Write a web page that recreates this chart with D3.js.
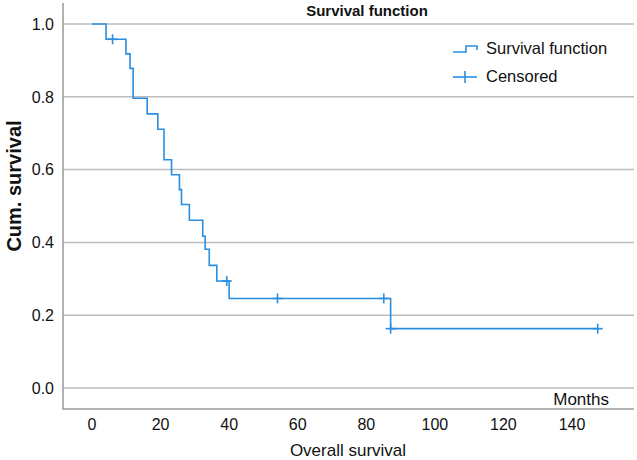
<!DOCTYPE html>
<html>
<head>
<meta charset="utf-8">
<script src="https://cdn.jsdelivr.net/npm/d3@7"></script>
<style>
  html, body { margin: 0; padding: 0; background: #fff; }
  svg { display: block; }
  text { font-family: "Liberation Sans", Arial, Helvetica, sans-serif; fill: #111; }
</style>
</head>
<body>
<svg id="chart" width="637" height="460"></svg>
<script>
// ---- data ----
const eventTimes = [0, 4.1, 9.9, 11.1, 12.0, 16.1, 19.2, 21.0, 23.2, 25.5, 26.1, 28.4, 32.3, 33.0, 34.2, 36.4, 40.0, 87.1, 147.5];
const survival   = [1.0, 0.958, 0.918, 0.878, 0.796, 0.753, 0.711, 0.627, 0.586, 0.545, 0.504, 0.461, 0.417, 0.381, 0.337, 0.294, 0.246, 0.163, 0.163];
const censorTimes  = [6.0, 39.3, 54.1, 85.1, 87.1, 147.5];
const censorValues = [0.958, 0.294, 0.246, 0.246, 0.163, 0.163];
const xTicks = [0, 20, 40, 60, 80, 100, 120, 140];
const yTicks = [0.0, 0.2, 0.4, 0.6, 0.8, 1.0];
const legendLabels = ["Survival function", "Censored"];

const blue = "#2a8ee0";
const gridColor = "#bdbdbd";
const frameColor = "#9a9a9a";

const svg = d3.select("#chart");
const x = d3.scaleLinear().domain([0, 140]).range([92, 572]);
const y = d3.scaleLinear().domain([0, 1]).range([388, 24]);

const frame = { left: 63, right: 634, top: 3, bottom: 409 };

// gridlines
svg.append("g").selectAll("line").data(yTicks).join("line")
  .attr("x1", frame.left).attr("x2", frame.right)
  .attr("y1", d => y(d)).attr("y2", d => y(d))
  .attr("stroke", gridColor).attr("stroke-width", 1.5);

// frame (left + bottom)
svg.append("path")
  .attr("d", `M${frame.left},${frame.top}V${frame.bottom}H${frame.right}`)
  .attr("fill", "none").attr("stroke", frameColor).attr("stroke-width", 1.5);

// y tick labels
svg.append("g").selectAll("text").data(yTicks).join("text")
  .attr("x", 54).attr("y", d => y(d)).attr("dy", "0.36em")
  .attr("text-anchor", "end").attr("font-size", 16)
  .text(d => d3.format(".1f")(d));

// x tick labels
svg.append("g").selectAll("text").data(xTicks).join("text")
  .attr("x", d => x(d)).attr("y", 430)
  .attr("text-anchor", "middle").attr("font-size", 16)
  .text(d => d);

// axis titles
svg.append("text").attr("x", 348).attr("y", 456).attr("text-anchor", "middle")
  .attr("font-size", 17).text("Overall survival");
svg.append("text").attr("transform", "translate(21,186) rotate(-90)")
  .attr("text-anchor", "middle").attr("font-size", 20).attr("font-weight", "bold")
  .text("Cum. survival");
svg.append("text").attr("x", 609).attr("y", 405).attr("text-anchor", "end")
  .attr("font-size", 17).text("Months");

// title
svg.append("text").attr("x", 367).attr("y", 16).attr("text-anchor", "middle")
  .attr("font-size", 15).attr("font-weight", "bold").text("Survival function");

// survival step curve
const pts = eventTimes.map((t, i) => [t, survival[i]]);
const line = d3.line().x(d => x(d[0])).y(d => y(d[1])).curve(d3.curveStepAfter);
svg.append("path").datum(pts).attr("d", line)
  .attr("fill", "none").attr("stroke", blue).attr("stroke-width", 1.6);

// censor marks
const cg = svg.append("g").attr("stroke", blue).attr("stroke-width", 1.6);
censorTimes.forEach((t, i) => {
  const cx = x(t), cy = y(censorValues[i]);
  cg.append("line").attr("x1", cx - 5).attr("x2", cx + 5).attr("y1", cy).attr("y2", cy);
  cg.append("line").attr("x1", cx).attr("x2", cx).attr("y1", cy - 5).attr("y2", cy + 5);
});

// legend
const lg = svg.append("g");
lg.append("path").attr("d", "M453,52H466V46H477V50")
  .attr("fill", "none").attr("stroke", blue).attr("stroke-width", 1.6);
lg.append("line").attr("x1", 453).attr("x2", 477).attr("y1", 77).attr("y2", 77)
  .attr("stroke", blue).attr("stroke-width", 1.6);
lg.append("line").attr("x1", 465).attr("x2", 465).attr("y1", 71).attr("y2", 83)
  .attr("stroke", blue).attr("stroke-width", 1.6);
lg.selectAll("text").data(legendLabels).join("text")
  .attr("x", 486).attr("y", (d, i) => 54 + i * 28)
  .attr("font-size", 16.5).text(d => d);
</script>
</body>
</html>
